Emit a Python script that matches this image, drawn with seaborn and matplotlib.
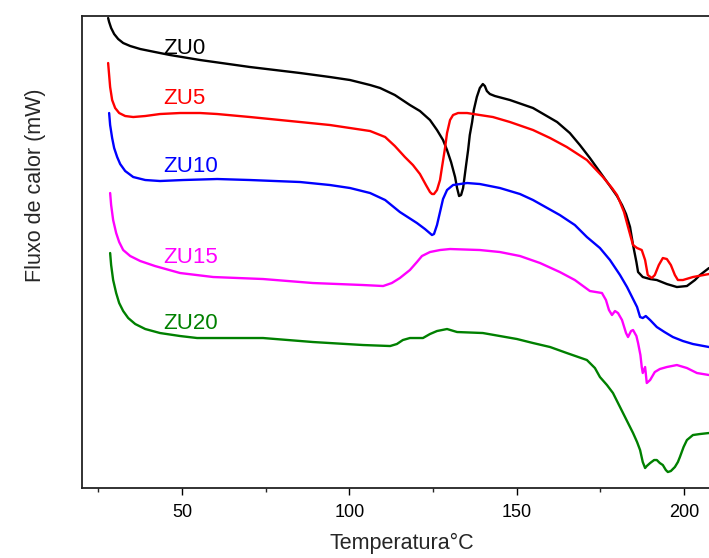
import numpy as np
import pandas as pd
import matplotlib
matplotlib.use("Agg")
import matplotlib.pyplot as plt
from matplotlib.ticker import MultipleLocator
import seaborn as sns

# ── Data (heat flow in arbitrary mW offset units) ──
t_zu0 = [27.9, 28.2, 28.8, 29.7, 30.9, 32.4, 34.5, 37.5, 41.9, 46.4,
         55.4, 70.3, 85.3, 94.2, 100.2, 106.2, 109.2, 113.6, 118.1, 121.1,
         124.1, 126.2, 128.0, 129.2, 130.4, 131.6, 132.2, 132.8, 133.4, 134.0,
         134.9, 135.5, 136.0, 136.7, 137.2, 138.1, 139.0, 139.9, 140.5, 141.1,
         142.0, 143.5, 148.0, 154.9, 162.1, 165.9, 168.9, 171.9, 174.9, 177.9,
         180.0, 181.5, 182.7, 183.9, 184.8, 185.8, 186.3, 187.7, 189.9, 191.9,
         194.9, 197.9, 200.9, 203.3, 204.8, 207.5]
hf_zu0 = [4.70, 4.66, 4.60, 4.54, 4.49, 4.45, 4.42, 4.39, 4.36, 4.33,
          4.28, 4.21, 4.15, 4.11, 4.08, 4.03, 4.00, 3.93, 3.83, 3.77,
          3.68, 3.58, 3.48, 3.38, 3.26, 3.11, 3.00, 2.92, 2.93, 3.00,
          3.23, 3.38, 3.53, 3.66, 3.78, 3.91, 4.00, 4.04, 4.02, 3.97,
          3.94, 3.92, 3.88, 3.80, 3.66, 3.55, 3.43, 3.30, 3.16, 3.02,
          2.92, 2.83, 2.74, 2.61, 2.43, 2.26, 2.16, 2.11, 2.09, 2.08,
          2.04, 2.01, 2.02, 2.08, 2.13, 2.20]

t_zu5 = [27.9, 28.2, 28.5, 29.1, 30.0, 31.2, 33.0, 35.4, 39.0, 43.4,
         49.4, 55.4, 60.5, 70.3, 85.3, 94.2, 100.2, 106.2, 110.7, 113.6,
         116.6, 119.0, 121.1, 122.9, 124.1, 124.7, 125.3, 126.2, 127.1, 127.7,
         128.6, 129.2, 130.1, 131.0, 132.5, 135.2, 139.0, 142.9, 148.0, 154.9,
         160.0, 165.0, 171.0, 175.8, 178.5, 180.0, 180.9, 182.1, 183.3, 184.2,
         184.8, 186.0, 187.4, 188.4, 189.2, 190.4, 191.3, 192.5, 193.7, 194.9,
         196.1, 197.3, 198.2, 199.7, 202.7, 207.5]
hf_zu5 = [4.25, 4.13, 4.01, 3.88, 3.80, 3.75, 3.72, 3.71, 3.72, 3.74,
          3.75, 3.75, 3.74, 3.71, 3.66, 3.63, 3.60, 3.57, 3.51, 3.42,
          3.31, 3.23, 3.14, 3.03, 2.96, 2.94, 2.94, 2.98, 3.08, 3.21,
          3.40, 3.55, 3.68, 3.73, 3.75, 3.75, 3.73, 3.71, 3.66, 3.58,
          3.50, 3.41, 3.28, 3.11, 3.00, 2.93, 2.86, 2.76, 2.61, 2.50,
          2.43, 2.40, 2.38, 2.28, 2.13, 2.10, 2.13, 2.23, 2.30, 2.29,
          2.23, 2.13, 2.08, 2.08, 2.11, 2.14]

t_zu10 = [28.2, 28.5, 29.1, 29.7, 30.6, 31.5, 33.0, 35.4, 39.0, 43.4,
          50.3, 60.5, 70.3, 85.3, 94.2, 100.2, 106.2, 110.7, 115.1, 120.2,
          122.6, 124.7, 125.3, 126.2, 127.1, 128.0, 129.2, 131.0, 135.2, 139.0,
          145.0, 151.0, 154.9, 162.9, 167.4, 171.0, 174.9, 177.9, 180.9, 183.0,
          184.5, 186.0, 186.9, 187.7, 188.6, 189.9, 191.9, 194.2, 196.7, 199.7,
          202.7, 207.5]
hf_zu10 = [3.75, 3.63, 3.50, 3.40, 3.31, 3.24, 3.17, 3.11, 3.08, 3.07,
           3.08, 3.09, 3.08, 3.06, 3.03, 3.00, 2.95, 2.88, 2.76, 2.65,
           2.59, 2.53, 2.54, 2.63, 2.76, 2.89, 2.98, 3.03, 3.05, 3.04,
           3.00, 2.94, 2.88, 2.73, 2.63, 2.51, 2.40, 2.28, 2.13, 2.01,
           1.91, 1.81, 1.71, 1.70, 1.72, 1.68, 1.61, 1.56, 1.51, 1.47,
           1.44, 1.41]

t_zu15 = [28.5, 28.8, 29.4, 30.3, 31.2, 32.4, 34.5, 37.5, 41.9, 49.4,
          59.3, 74.2, 89.1, 104.1, 110.1, 112.7, 115.1, 118.1, 120.2, 121.7,
          124.1, 127.1, 130.1, 139.0, 145.0, 151.0, 157.0, 162.9, 167.4, 171.9,
          175.5, 176.7, 177.6, 178.5, 179.4, 180.3, 181.5, 182.7, 183.3, 184.2,
          184.8, 185.8, 186.3, 187.0, 187.4, 187.7, 188.4, 188.9, 189.9, 191.3,
          192.8, 194.9, 197.9, 200.9, 203.9, 207.5]
hf_zu15 = [2.95, 2.83, 2.68, 2.55, 2.46, 2.38, 2.32, 2.27, 2.22, 2.15,
           2.11, 2.09, 2.05, 2.03, 2.02, 2.05, 2.10, 2.18, 2.26, 2.32,
           2.36, 2.38, 2.39, 2.38, 2.36, 2.32, 2.25, 2.16, 2.08, 1.97,
           1.95, 1.88, 1.78, 1.73, 1.77, 1.75, 1.68, 1.55, 1.51, 1.57,
           1.58, 1.52, 1.45, 1.33, 1.21, 1.15, 1.21, 1.05, 1.08, 1.16,
           1.19, 1.21, 1.23, 1.20, 1.15, 1.13]

t_zu20 = [28.5, 28.8, 29.4, 30.3, 31.2, 32.4, 33.9, 36.0, 39.0, 43.4,
          49.4, 54.5, 74.2, 89.1, 104.1, 112.2, 114.2, 116.0, 118.1, 122.0,
          124.1, 126.2, 129.2, 132.2, 139.9, 145.0, 150.1, 154.9, 160.0, 165.0,
          171.0, 173.4, 174.9, 177.0, 178.8, 180.3, 181.8, 183.3, 184.8, 186.0,
          186.9, 187.7, 188.4, 188.9, 189.9, 191.1, 191.9, 192.8, 193.7, 194.6,
          195.2, 196.1, 197.3, 198.2, 198.8, 199.9, 200.9, 202.7, 204.8, 207.5]
hf_zu20 = [2.35, 2.23, 2.08, 1.95, 1.85, 1.77, 1.70, 1.64, 1.59, 1.55,
           1.52, 1.50, 1.50, 1.46, 1.43, 1.42, 1.44, 1.48, 1.50, 1.50,
           1.54, 1.57, 1.59, 1.56, 1.55, 1.52, 1.49, 1.45, 1.41, 1.35,
           1.28, 1.20, 1.11, 1.03, 0.95, 0.85, 0.75, 0.65, 0.55, 0.46,
           0.38, 0.26, 0.20, 0.22, 0.25, 0.28, 0.28, 0.25, 0.23, 0.18,
           0.16, 0.17, 0.21, 0.26, 0.31, 0.41, 0.48, 0.53, 0.54, 0.55]

samples = ["ZU0", "ZU5", "ZU10", "ZU15", "ZU20"]
colors  = ["#000000", "#ff0000", "#0000ff", "#ff00ff", "#008000"]
label_hf = [4.34, 3.84, 3.16, 2.25, 1.59]   # baseline of in-plot labels
label_t  = 44.3

frames = []
for name, t, hf in zip(samples,
                       [t_zu0, t_zu5, t_zu10, t_zu15, t_zu20],
                       [hf_zu0, hf_zu5, hf_zu10, hf_zu15, hf_zu20]):
    frames.append(pd.DataFrame({"T": t, "hf": hf, "sample": name}))
df = pd.concat(frames, ignore_index=True)

sns.set_style("ticks")
plt.rcParams["font.family"] = ["Liberation Sans", "DejaVu Sans"]

fig = plt.figure(figsize=(7.09, 5.58), dpi=100)
ax = fig.add_axes([0.1157, 0.1254, 0.8843, 0.8459])

sns.lineplot(data=df, x="T", y="hf", hue="sample", hue_order=samples,
             palette=colors, sort=False, estimator=None, linewidth=1.7,
             legend=False, ax=ax)

for name, c, y in zip(samples, colors, label_hf):
    ax.text(label_t, y, name, color=c, fontsize=16, ha="left", va="baseline")

ax.set_xlim(20.1, 207.5)
ax.set_ylim(0, 4.72)
ax.xaxis.set_major_locator(MultipleLocator(50))
ax.xaxis.set_minor_locator(MultipleLocator(25))
ax.set_yticks([])
ax.tick_params(axis="x", which="major", length=5, width=1, labelsize=13,
               pad=6.5, direction="out", colors="black")
ax.tick_params(axis="x", which="minor", length=3, width=1, direction="out")

for side in ["left", "top", "bottom"]:
    ax.spines[side].set_linewidth(1.3)
    ax.spines[side].set_color("#222222")
ax.spines["right"].set_visible(False)

ax.set_xlabel("Temperatura°C", fontsize=15.5)
ax.set_ylabel("Fluxo de calor (mW)", fontsize=15.5)
ax.xaxis.set_label_coords(0.51, -0.096)
ax.yaxis.set_label_coords(-0.057, 0.642)

fig.savefig("out.png", dpi=100)
